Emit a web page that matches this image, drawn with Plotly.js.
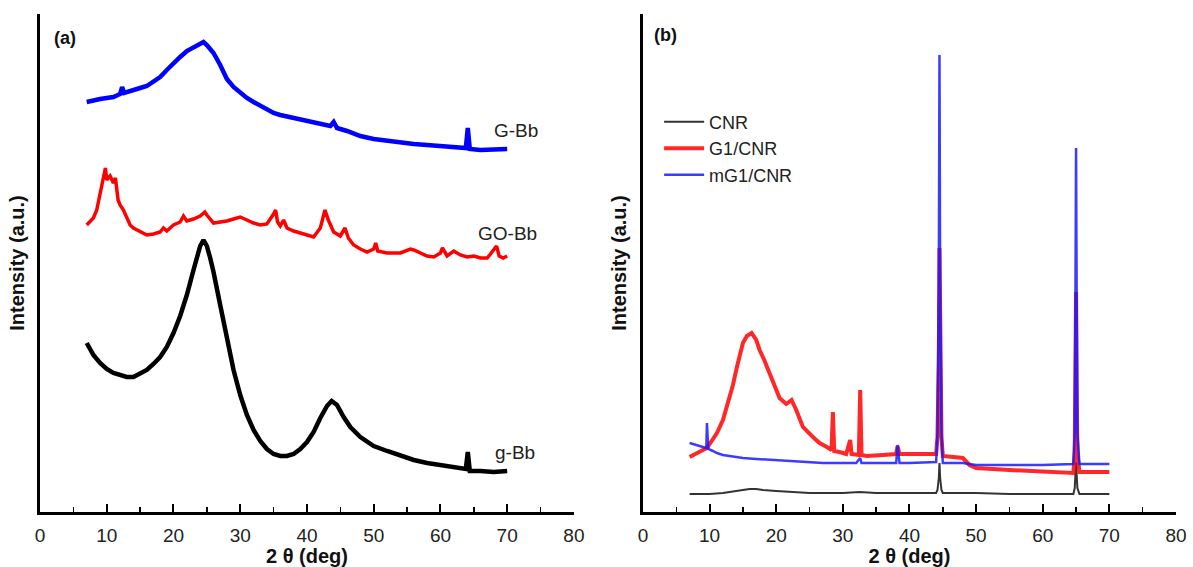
<!DOCTYPE html>
<html>
<head>
<meta charset="utf-8">
<script src="https://cdn.plot.ly/plotly-3.0.1.min.js"></script>
<style>html,body{margin:0;padding:0;background:#fff;}#chart{width:1193px;height:567px;}</style>
</head>
<body>
<div id="chart"></div>
<script>
// ---------- Panel (a) ----------
const GBb_x = [7,8,9,10,11,12,12.3,12.6,13,14,15,16,17,18,19,20,21,22,23,24,24.5,25,26,27,27.5,28,29,30,31,32,33,34,35,36,38,40,42,43.5,44,44.5,46,48,50,52,54,56,58,60,62,63.8,64.1,64.4,66,68,70];
const GBb_y = [410,412,413,414,415,418,425,419,420,422,424,426,430,435,442,449,455,461,465,469,470,467,459,447,440,433,425,419,414,410,406,402,399,397,394,391,388,386,390,384,381,376,373,371,370,368,367,366,365,364,384,363,362,362,363];

const GOBb_x = [7,7.5,8,8.5,9,9.5,9.8,10,10.5,11,11.3,11.7,12,12.5,13,13.5,14,15,16,17,18,18.5,19,20,21,21.5,22,23,24,24.7,25,26,27,28,29,30,31,32,33,34,35,35.3,35.6,36,36.5,37,38,39,40,41,42,42.7,43.2,44,45,45.7,46.2,47,48,49,50,50.3,50.6,52,54,55.5,56,58,59,60,60.3,61,62,63,64,65,66,67,67.5,68,68.4,68.8,69.4,70];
const GOBb_y = [287,290,294,302,317,334,344,332,336,329,334,312,307,302,294,287,284,280,277,278,280,284,281,287,290,296,291,293,296,300,297,289,290,291,293,295,292,289,287,288,298,302,290,286,292,284,281,279,277,275,284,302,292,280,276,284,274,267,263,260,263,269,261,259,259,263,262,256,255,259,264,256,261,257,255,256,254,254,258,263,266,256,254,256];

const gBb_x = [7,8,9,10,11,12,13,14,15,16,17,18,19,20,21,22,23,23.5,24,24.5,25,25.5,26,27,28,29,30,31,32,33,34,35,36,37,38,39,40,41,42,43,43.7,44.5,45.5,46.5,48,50,52,54,56,58,60,62,63.8,64.1,64.4,66,68,70];
const gBb_y = [169,157,149,143,139,137,135,135,138,142,148,155,165,179,196,217,242,254,266,272,266,254,240,207,172,142,117,97,82,71,63,58,56,56,58,63,70,80,94,106,111,107,95,85,75,66,61,56,52,49,47,45,43,60,41,41,40,41];

// ---------- Panel (b) ----------
const CNR_x = [7,10,12,13,14,15,16,17,18,20,22,25,30,32.5,35,40,44,44.2,44.4,44.5,44.6,44.8,45,50,55,60,64.6,64.8,64.9,65,65.1,65.2,65.5,70];
const CNR_y = [18,18,19,20,21,22,23,23,22,21,20,19,19,20,19,19,19,22,34,49,34,22,19,19,18,18,18,24,36,50,36,24,18,18];

const G1CNR_x = [7,8,9,9.6,10.5,11.1,12,12.6,13.5,14.1,15,15.6,16.3,17,17.5,18.2,19,20,20.5,21.5,22.3,23,24,25.5,26.5,27.6,28.3,28.5,28.7,29.5,30.5,31.1,31.3,32.4,32.6,32.8,33.6,36,38,38.2,38.5,40,42,44,44.2,44.4,44.5,44.6,44.8,45,46,48,49,50,55,60,64.6,64.8,64.9,65,65.1,65.2,65.5,68,70];
const G1CNR_y = [55,58,62,64,72,79,92,105,127,145,169,176,179,172,162,152,139,122,114,108,112,102,85,75,69,65,62,100,61,60,58,72,58,57,122,57,56,57,58,66,58,58,58,58,75,150,264,150,75,56,55,54,47,44,42,40,39,60,120,220,120,60,40,40,40];

const mG1CNR_x = [7,8,9,9.5,9.6,9.8,10.5,11.1,12,13.6,15,17,20,22,25,27,30,32,32.6,32.8,35,38,38.2,38.5,40,44,44.2,44.4,44.5,44.6,44.8,45,48,50,55,60,64.6,64.8,64.9,65,65.1,65.2,65.5,70];
const mG1CNR_y = [69,67,65,64,89,63,61,59,57,55,54,53,52,51,50,49,49,49,54,49,49,49,67,49,49,50,80,230,457,230,80,49,49,47,47,47,48,80,200,364,200,80,48,48];

const xTickVals = [0,10,20,30,40,50,60,70,80];
const xTitle = '<b>2 θ (deg)</b>';
const yTitle = '<b>Intensity (a.u.)</b>';
const sampleLabels = ['G-Bb','GO-Bb','g-Bb'];
const legendNames = ['CNR','G1/CNR','mG1/CNR'];

const FONT = 'Liberation Sans, Arial, sans-serif';

const traces = [
  {x:GBb_x, y:GBb_y, type:'scatter', mode:'lines', line:{color:'#0000ff', width:4.5}, showlegend:false, xaxis:'x', yaxis:'y', name:'G-Bb'},
  {x:GOBb_x, y:GOBb_y, type:'scatter', mode:'lines', line:{color:'#ff0000', width:3.5}, showlegend:false, xaxis:'x', yaxis:'y', name:'GO-Bb'},
  {x:gBb_x, y:gBb_y, type:'scatter', mode:'lines', line:{color:'#000000', width:4.5}, showlegend:false, xaxis:'x', yaxis:'y', name:'g-Bb'},
  {x:CNR_x, y:CNR_y, type:'scatter', mode:'lines', line:{color:'#333333', width:2}, name:legendNames[0], xaxis:'x2', yaxis:'y2'},
  {x:G1CNR_x, y:G1CNR_y, type:'scatter', mode:'lines', line:{color:'#ff1010', width:4}, opacity:0.9, name:legendNames[1], xaxis:'x2', yaxis:'y2'},
  {x:mG1CNR_x, y:mG1CNR_y, type:'scatter', mode:'lines', line:{color:'#1a1aff', width:2.5}, opacity:0.85, name:legendNames[2], xaxis:'x2', yaxis:'y2'}
];

function xAxis(domain, anchor){
  return {
    domain:domain, anchor:anchor, range:[0,80], tickvals:xTickVals,
    ticks:'inside', ticklen:8, tickwidth:2, tickcolor:'#000',
    minor:{dtick:5, tick0:0, ticks:'inside', ticklen:5, tickwidth:1.5, tickcolor:'#000', showgrid:false},
    showline:true, linewidth:3, linecolor:'#000', showgrid:false, zeroline:false,
    tickfont:{family:FONT, size:19, color:'#222'}, ticklabelstandoff:4,
    title:{text:xTitle, font:{family:FONT, size:20, color:'#111'}, standoff:0},
    fixedrange:true
  };
}
function yAxis(anchor){
  return {
    domain:[0,1], anchor:anchor, range:[0,498], showticklabels:false, ticks:'',
    showline:true, linewidth:3, linecolor:'#000', showgrid:false, zeroline:false,
    title:{text:yTitle, font:{family:FONT, size:20, color:'#111'}, standoff:8},
    fixedrange:true
  };
}

const layout = {
  width:1193, height:567,
  margin:{l:40, r:17, t:14, b:55},
  paper_bgcolor:'#ffffff', plot_bgcolor:'#ffffff',
  font:{family:FONT, color:'#222'},
  xaxis:xAxis([0,0.47],'y'),
  yaxis:yAxis('x'),
  xaxis2:xAxis([0.5308,1],'y2'),
  yaxis2:yAxis('x2'),
  showlegend:true,
  legend:{x:0.545, y:0.82, xanchor:'left', yanchor:'top', xref:'paper', yref:'paper',
          bgcolor:'rgba(255,255,255,1)', borderwidth:0, font:{family:FONT, size:18, color:'#222'},
          tracegroupgap:2, itemwidth:40},
  annotations:[
    {text:'<b>(a)</b>', xref:'x', yref:'y', x:1.8, y:474, xanchor:'left', yanchor:'middle', showarrow:false, font:{family:FONT, size:18, color:'#111'}},
    {text:'<b>(b)</b>', xref:'x2', yref:'y2', x:1.4, y:477, xanchor:'left', yanchor:'middle', showarrow:false, font:{family:FONT, size:18, color:'#111'}},
    {text:sampleLabels[0], xref:'x', yref:'y', x:71.3, y:382, xanchor:'center', yanchor:'middle', showarrow:false, font:{family:FONT, size:19, color:'#222'}},
    {text:sampleLabels[1], xref:'x', yref:'y', x:70.1, y:279, xanchor:'center', yanchor:'middle', showarrow:false, font:{family:FONT, size:19, color:'#222'}},
    {text:sampleLabels[2], xref:'x', yref:'y', x:71.2, y:60, xanchor:'center', yanchor:'middle', showarrow:false, font:{family:FONT, size:19, color:'#222'}}
  ]
};

Plotly.newPlot('chart', traces, layout, {displayModeBar:false, staticPlot:true});
</script>
</body>
</html>
